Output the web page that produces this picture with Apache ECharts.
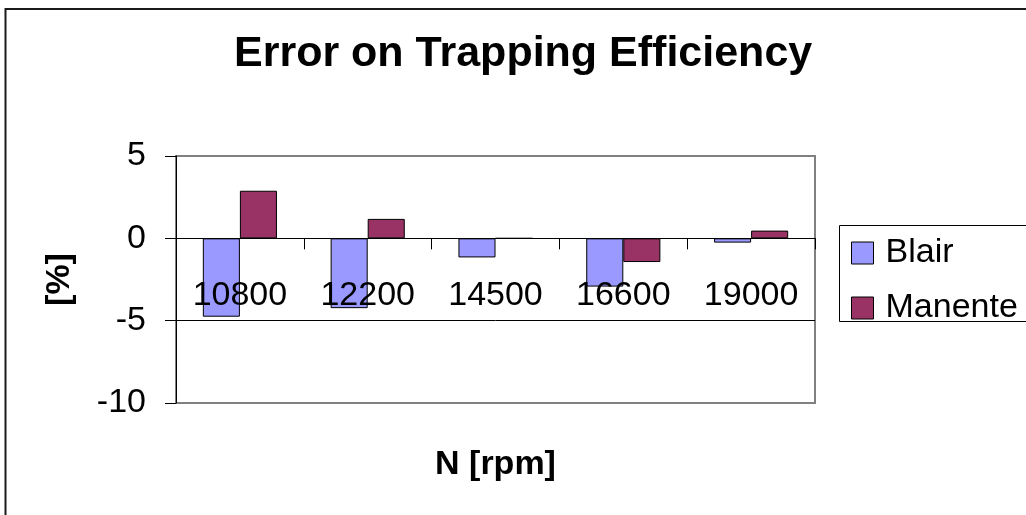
<!DOCTYPE html>
<html>
<head>
<meta charset="utf-8">
<title>Error on Trapping Efficiency</title>
<script src="https://cdn.jsdelivr.net/npm/echarts@6/dist/echarts.min.js"></script>
<style>
  html, body { margin: 0; padding: 0; background: #fff; }
  #chart { width: 1026px; height: 515px; }
</style>
</head>
<body>
<div id="chart"></div>
<script>
// Engine speeds (rpm)
const categories = ['10800', '12200', '14500', '16600', '19000'];
// Trapping efficiency error per model (%)
const blair = [-4.76, -4.24, -1.16, -2.93, -0.26];
const manente = [2.89, 1.18, 0, -1.44, 0.47];
// Value axis ticks
const yMin = -10, yMax = 5, yStep = 5;

const FONT = '"Liberation Sans", Arial, sans-serif';

const chart = echarts.init(document.getElementById('chart'), null, { renderer: 'canvas' });

chart.setOption({
  backgroundColor: '#fff',
  animation: false,
  title: {
    text: 'Error on Trapping Efficiency',
    left: 234,
    top: 33,
    padding: 0,
    textStyle: { fontFamily: FONT, fontSize: 43, fontWeight: 'bold', color: '#000' }
  },
  legend: {
    orient: 'vertical',
    left: 851,
    top: 236,
    padding: 0,
    itemWidth: 22,
    itemHeight: 22,
    itemGap: 21,
    icon: 'rect',
    itemStyle: { borderColor: '#000', borderWidth: 1 },
    textStyle: { fontFamily: FONT, fontSize: 34, color: '#000', lineHeight: 34, padding: [0, 0, 0, 7] },
    data: ['Blair', 'Manente']
  },
  grid: {
    left: 176,
    top: 156,
    right: 211,
    bottom: 112,
    containLabel: false,
    outerBoundsMode: 'none',
    show: true,
    borderColor: '#808080',
    borderWidth: 2,
    backgroundColor: 'transparent'
  },
  xAxis: {
    type: 'category',
    data: categories,
    z: 10,
    boundaryGap: true,
    name: 'N [rpm]',
    nameLocation: 'middle',
    nameGap: 45,
    nameTextStyle: { fontFamily: FONT, fontSize: 34, fontWeight: 'bold', color: '#000' },
    axisLine: { onZero: true, lineStyle: { color: '#000', width: 1 } },
    axisTick: { show: true, length: 11, lineStyle: { color: '#000', width: 1 } },
    // category labels sit just under the zero line, over the bars
    axisLabel: { margin: -124, fontFamily: FONT, fontSize: 34, color: '#000' },
    splitLine: { show: false }
  },
  yAxis: {
    type: 'value',
    min: yMin,
    max: yMax,
    interval: yStep,
    name: '[%]',
    nameLocation: 'middle',
    nameGap: 99,
    nameTextStyle: { fontFamily: FONT, fontSize: 34, fontWeight: 'bold', color: '#000' },
    axisLine: { show: true, lineStyle: { color: '#000', width: 1 } },
    axisTick: { show: true, length: 11, lineStyle: { color: '#000', width: 1 } },
    axisLabel: { margin: 30, fontFamily: FONT, fontSize: 34, color: '#000', padding: [10, 0, 0, 0] },
    splitLine: { show: true, showMinLine: false, showMaxLine: false, lineStyle: { color: '#000', width: 1 } }
  },
  series: [
    {
      name: 'Blair',
      type: 'bar',
      data: blair,
      barGap: '0%',
      barCategoryGap: '42%',
      itemStyle: { color: '#9999FF', borderColor: '#000', borderWidth: 1 }
    },
    {
      name: 'Manente',
      type: 'bar',
      data: manente,
      itemStyle: { color: '#993366', borderColor: '#000', borderWidth: 1 }
    }
  ],
  graphic: [
    {
      // outer chart frame (continues past the right and bottom edges)
      type: 'rect',
      shape: { x: 5.5, y: 9, width: 1100, height: 600 },
      style: { fill: 'none', stroke: '#1a1a1a', lineWidth: 2 },
      silent: true
    },
    {
      // legend frame
      type: 'rect',
      shape: { x: 839.5, y: 225.5, width: 250, height: 96 },
      style: { fill: 'none', stroke: '#000', lineWidth: 1 },
      silent: true
    }
  ]
});
</script>
</body>
</html>
